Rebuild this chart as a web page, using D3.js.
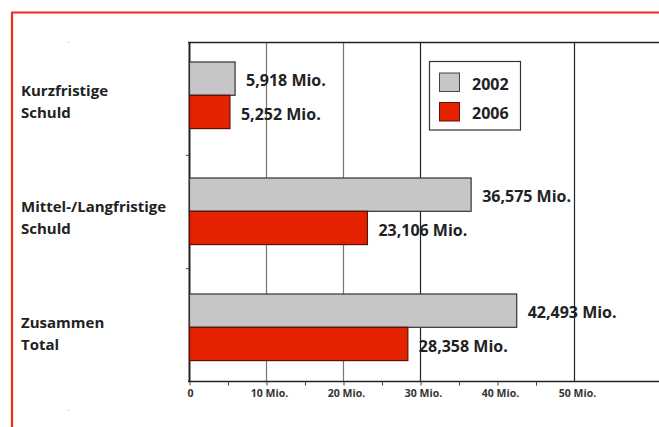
<!DOCTYPE html>
<html><head><meta charset="utf-8">
<script src="https://cdn.jsdelivr.net/npm/d3@7"></script>
<style>body{margin:0;background:#fff}svg{display:block}text{font-family:"Open Sans",sans-serif;font-weight:700;fill:#222}</style>
</head><body>
<script>
const categories = [["Kurzfristige","Schuld"],["Mittel-/Langfristige","Schuld"],["Zusammen","Total"]];
const seriesNames = ["2002","2006"];
const values2002 = [5.918, 36.575, 42.493];
const values2006 = [5.252, 23.106, 28.358];
const labels2002 = ["5,918 Mio.","36,575 Mio.","42,493 Mio."];
const labels2006 = ["5,252 Mio.","23,106 Mio.","28,358 Mio."];
const tickValues = [0,10,20,30,40,50];
const tickLabels = ["0","10 Mio.","20 Mio.","30 Mio.","40 Mio.","50 Mio."];
const colors = ["#c6c6c8","#e42200"];

const W=659,H=427;
const svg=d3.select("body").append("svg").attr("width",W).attr("height",H);
const x=d3.scaleLinear().domain([0,60]).range([189.5,651.5]);
const yAxisBand=d3.scaleBand().domain(d3.range(categories.length)).range([42,382]);
const y=d3.scaleBand().domain(d3.range(categories.length)).range([62,62+3*116]);
const inner=d3.scaleBand().domain([0,1]).range([0,66.6]);

// border
svg.append("line").attr("x1",12).attr("x2",12).attr("y1",12).attr("y2",H).attr("stroke","#e8301a").attr("stroke-width",2.2);
svg.append("line").attr("x1",11).attr("x2",W).attr("y1",12.5).attr("y2",12.5).attr("stroke","#e8301a").attr("stroke-width",2.2);
// crop dots
[[68,42],[597,42],[68,410]].forEach(p=>svg.append("rect").attr("x",p[0]).attr("y",p[1]).attr("width",1).attr("height",1).attr("fill","#aaa"));

// gridlines
const gridVals=[10,20,30,50];
svg.selectAll(".grid").data(gridVals).join("line")
 .attr("x1",d=>x(d)).attr("x2",d=>x(d)).attr("y1",42).attr("y2",381.5)
 .attr("stroke",d=>d<30?"#777":"#222").attr("stroke-width",1.2);
// top frame line
svg.append("line").attr("x1",188).attr("x2",W).attr("y1",42.5).attr("y2",42.5).attr("stroke","#222").attr("stroke-width",1.5);

// bottom axis
const ax=svg.append("g").attr("transform","translate(0,381.5)")
 .call(d3.axisBottom(x).tickValues(d3.range(0,50,5).concat([45])).tickSize(4).tickFormat(""));
ax.select(".domain").attr("stroke","#222").attr("stroke-width",1.5).attr("d","M188,0H"+W);
ax.selectAll(".tick line").attr("stroke","#444");
svg.selectAll(".tlab").data(tickValues).join("text")
 .attr("x",(d,i)=>x(d)+(i?3:1)).attr("y",397).attr("text-anchor","middle").attr("font-size","10.5px")
 .style("fill","#333").text((d,i)=>tickLabels[i]);

// y axis
svg.append("line").attr("x1",189.5).attr("x2",189.5).attr("y1",42).attr("y2",382).attr("stroke","#222").attr("stroke-width",2);
svg.selectAll(".yt").data([1,2]).join("line").attr("x1",186).attr("x2",189).attr("y1",d=>yAxisBand(d)).attr("y2",d=>yAxisBand(d)).attr("stroke","#444");

// bars
const groups=svg.selectAll(".cat").data(categories).join("g").attr("transform",(d,i)=>`translate(0,${y(i)})`);
[values2002,values2006].forEach((vals,s)=>{
  groups.append("rect").attr("x",x(0)).attr("y",inner(s)).attr("width",(d,i)=>x(vals[i])-x(0)).attr("height",inner.bandwidth())
   .attr("fill",colors[s]).attr("stroke",s?"#5a1505":"#333").attr("stroke-width",1.2);
  const labs=s?labels2006:labels2002;
  groups.append("text").attr("x",(d,i)=>x(vals[i])+11).attr("y",inner(s)+inner.bandwidth()/2+(s?8:7))
   .attr("font-size","16px").text((d,i)=>labs[i]);
});
// category labels
groups.append("text").attr("x",21).attr("y",34).attr("font-size","15px")
 .selectAll("tspan").data(d=>d).join("tspan").attr("x",21).attr("dy",(d,i)=>i?22:0).text(d=>d);

// legend
const lg=svg.append("g");
lg.append("rect").attr("x",429.5).attr("y",61.5).attr("width",91).attr("height",68.5).attr("fill","#fff").attr("stroke","#333").attr("stroke-width",1.2);
seriesNames.forEach((n,i)=>{
  lg.append("rect").attr("x",439.5).attr("y",73+i*29.5).attr("width",20).attr("height",18.5).attr("fill",colors[i]).attr("stroke",i?"#5a1505":"#444");
  lg.append("text").attr("x",472).attr("y",89.5+i*29).attr("font-size","16px").text(n);
});
</script>
</body></html>
